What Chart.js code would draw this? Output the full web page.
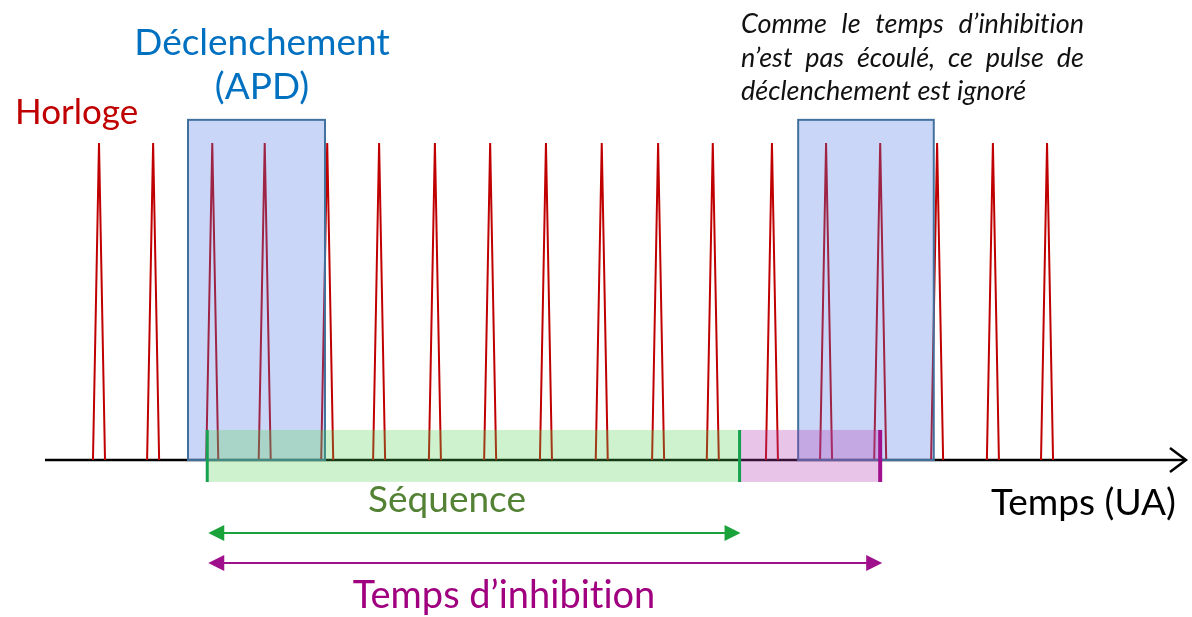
<!DOCTYPE html>
<html>
<head>
<meta charset="utf-8">
<script src="https://cdn.jsdelivr.net/npm/chart.js@4/dist/chart.umd.min.js"></script>
<style>
  html, body { margin: 0; padding: 0; background: #fff; }
  canvas { display: block; }
</style>
</head>
<body>
<canvas id="chart" width="1192" height="617"></canvas>
<script>
// Clock pulse instants (UA, one clock period = 1)
var clockTimes = [0, 0.97, 2.03, 2.97, 4.09, 5.02, 6.02, 7.01, 8.01, 9.01,
                  10.02, 11.0, 12.06, 13.03, 14.0, 15.02, 16.02, 16.99];
var pulseHeight = 1;
var pulseHalfWidth = 0.108;

// APD trigger pulses [start, end]
var triggerStarts = [1.595, 12.53];
var triggerEnds = [4.05, 14.96];
var triggerHeight = 1.073;

// Sequence / inhibition time
var sequenceStart = 1.94;
var sequenceEnd = 11.48;
var inhibitionEnd = 14.0;

// Time axis range
var axisStart = -0.968;
var axisEnd = 19.48;

var RED = '#c00000';
var BLUE_TXT = '#0070c0';
var GREEN = '#1aa33a';
var GREEN_TXT = '#548235';
var PURPLE = '#a0108c';

// Build pulse triangles (gaps between pulses)
var pulsePoints = [];
clockTimes.forEach(function(t) {
    pulsePoints.push({ x: t - pulseHalfWidth, y: 0 });
    pulsePoints.push({ x: t, y: pulseHeight });
    pulsePoints.push({ x: t + pulseHalfWidth, y: 0 });
    pulsePoints.push({ x: t, y: null });
});

function arrowHead(ctx, x, y, dir, len, half) {
    ctx.beginPath();
    ctx.moveTo(x, y);
    ctx.lineTo(x - dir * len, y - half);
    ctx.lineTo(x - dir * len, y + half);
    ctx.closePath();
    ctx.fill();
}

function drawJustified(ctx, text, left, right, y, justify) {
    var words = text.split(' ');
    if (!justify) {
        ctx.fillText(text, left, y);
        return;
    }
    var total = 0;
    words.forEach(function(w) { total += ctx.measureText(w).width; });
    var gap = (right - left - total) / (words.length - 1);
    var x = left;
    words.forEach(function(w) {
        ctx.fillText(w, x, y);
        x += ctx.measureText(w).width + gap;
    });
}

var diagramPlugin = {
    id: 'diagram',
    beforeDatasetsDraw: function(chart) {
        var ctx = chart.ctx;
        var xs = chart.scales.x, ys = chart.scales.y;
        var y0 = ys.getPixelForValue(0);
        var x1 = xs.getPixelForValue(axisStart);
        var x2 = xs.getPixelForValue(axisEnd);
        ctx.save();
        ctx.strokeStyle = '#000';
        ctx.lineWidth = 2.5;
        ctx.beginPath();
        ctx.moveTo(x1, y0);
        ctx.lineTo(x2, y0);
        ctx.stroke();
        ctx.beginPath();
        ctx.moveTo(x2 - 16, y0 - 12);
        ctx.lineTo(x2, y0);
        ctx.lineTo(x2 - 16, y0 + 12);
        ctx.stroke();
        ctx.restore();
    },
    afterDatasetsDraw: function(chart) {
        var ctx = chart.ctx;
        var xs = chart.scales.x, ys = chart.scales.y;
        var y0 = ys.getPixelForValue(0);
        ctx.save();

        // trigger boxes
        var yTop = ys.getPixelForValue(triggerHeight);
        for (var i = 0; i < triggerStarts.length; i++) {
            var a = xs.getPixelForValue(triggerStarts[i]);
            var b = xs.getPixelForValue(triggerEnds[i]);
            ctx.fillStyle = 'rgba(80,120,230,0.3)';
            ctx.fillRect(a, yTop, b - a, y0 - yTop);
            ctx.strokeStyle = '#41719c';
            ctx.lineWidth = 2;
            ctx.strokeRect(a, yTop, b - a, y0 - yTop);
        }

        // sequence / inhibition bands
        var bTop = ys.getPixelForValue(0.095);
        var bBot = ys.getPixelForValue(-0.069);
        var s1 = xs.getPixelForValue(sequenceStart);
        var s2 = xs.getPixelForValue(sequenceEnd);
        var s3 = xs.getPixelForValue(inhibitionEnd);
        ctx.fillStyle = 'rgba(80,210,80,0.28)';
        ctx.fillRect(s1, bTop, s2 - s1, bBot - bTop);
        ctx.fillStyle = 'rgba(180,60,180,0.3)';
        ctx.fillRect(s2, bTop, s3 - s2, bBot - bTop);

        ctx.lineWidth = 3;
        ctx.strokeStyle = '#16a050';
        ctx.beginPath();
        ctx.moveTo(s1, bTop); ctx.lineTo(s1, bBot);
        ctx.moveTo(s2, bTop); ctx.lineTo(s2, bBot);
        ctx.stroke();
        ctx.lineWidth = 4;
        ctx.strokeStyle = PURPLE;
        ctx.beginPath();
        ctx.moveTo(s3, bTop); ctx.lineTo(s3, bBot);
        ctx.stroke();

        // double arrows
        var ya = ys.getPixelForValue(-0.23);
        var yb = ys.getPixelForValue(-0.325);
        ctx.lineWidth = 2;
        ctx.strokeStyle = GREEN; ctx.fillStyle = GREEN;
        ctx.beginPath(); ctx.moveTo(s1 + 10, ya); ctx.lineTo(s2 - 10, ya); ctx.stroke();
        arrowHead(ctx, s1 + 1, ya, -1, 16, 8);
        arrowHead(ctx, s2 + 1, ya, 1, 16, 8);
        ctx.strokeStyle = PURPLE; ctx.fillStyle = PURPLE;
        ctx.beginPath(); ctx.moveTo(s1 + 10, yb); ctx.lineTo(s3 - 10, yb); ctx.stroke();
        arrowHead(ctx, s1 + 1, yb, -1, 16, 8);
        arrowHead(ctx, s3 + 2, yb, 1, 16, 8);

        // texts
        ctx.textBaseline = 'alphabetic';
        ctx.textAlign = 'left';
        ctx.font = '35px Lato';
        ctx.fillStyle = RED;
        ctx.fillText('Horloge', 15, 124);

        ctx.textAlign = 'center';
        ctx.font = '37px Lato';
        ctx.fillStyle = BLUE_TXT;
        ctx.fillText('Déclenchement', 262, 55);
        ctx.fillText('(APD)', 262, 99);

        ctx.fillStyle = GREEN_TXT;
        ctx.fillText('Séquence', 447, 512);
        ctx.font = '38px Lato';
        ctx.fillStyle = '#a0007f';
        ctx.fillText('Temps d\u2019inhibit\u200Cion', 504, 608);

        ctx.textAlign = 'left';
        ctx.font = '37px Lato';
        ctx.fillStyle = '#000';
        ctx.fillText('Temps (UA)', 991, 515);

        ctx.font = 'italic 27px Lato';
        ctx.fillStyle = '#111';
        drawJustified(ctx, 'Comme le temps d\u2019inhibit\u200Cion', 741, 1084, 33, true);
        drawJustified(ctx, 'n\u2019est pas écoulé, ce pulse de', 741, 1084, 67, true);
        drawJustified(ctx, 'déclenchement est ignoré', 741, 1084, 100, false);

        ctx.restore();
    }
};

new Chart(document.getElementById('chart').getContext('2d'), {
    type: 'line',
    data: {
        datasets: [{
            label: 'Horloge',
            data: pulsePoints,
            borderColor: RED,
            borderWidth: 2,
            pointRadius: 0,
            fill: false,
            spanGaps: false,
            tension: 0
        }]
    },
    options: {
        responsive: false,
        animation: false,
        layout: { padding: 0 },
        plugins: {
            legend: { display: false },
            tooltip: { enabled: false }
        },
        scales: {
            x: { type: 'linear', display: false, min: -1.774, max: 19.588 },
            y: { type: 'linear', display: false, min: -0.495, max: 1.451 }
        }
    },
    plugins: [diagramPlugin]
});
</script>
</body>
</html>
